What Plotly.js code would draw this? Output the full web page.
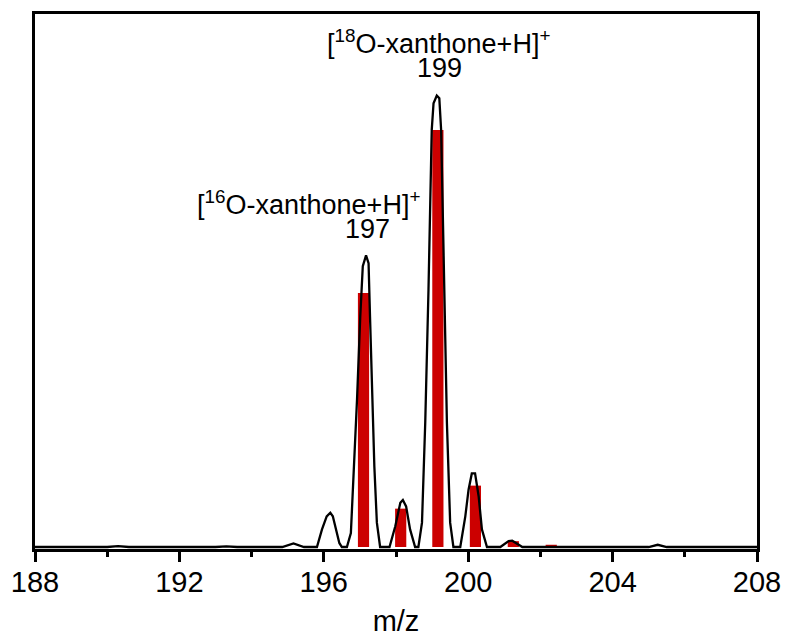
<!DOCTYPE html>
<html>
<head>
<meta charset="utf-8">
<script src="https://cdn.plot.ly/plotly-3.0.1.min.js"></script>
<style>html,body{margin:0;padding:0;background:#fff;}#chart{width:785px;height:637px;}</style>
</head>
<body>
<div id="chart"></div>
<script>
// Calculated isotope pattern (red bars)
const barMz = [197.10, 198.13, 199.16, 200.20, 201.25, 202.30];
const barIntensity = [56.3, 8.5, 92.4, 13.6, 1.3, 0.5];

const profileMz = [
  188.0, 190.0, 190.3, 190.6, 193.0, 193.3, 193.6, 194.85, 195.16, 195.45,
  195.81, 195.95, 196.08, 196.18, 196.25, 196.31, 196.43, 196.50,
  196.64, 196.75, 196.82, 196.92, 197.01, 197.08, 197.17, 197.24, 197.28, 197.33, 197.40, 197.47, 197.56,
  197.82, 197.98, 198.12, 198.19, 198.28, 198.39, 198.53,
  198.62, 198.72, 198.81, 198.90, 198.99, 199.04, 199.13, 199.20, 199.25, 199.32, 199.41, 199.50, 199.59,
  199.78, 199.92, 200.01, 200.10, 200.19, 200.29, 200.38, 200.52,
  200.89, 201.12, 201.22, 201.50,
  205.0, 205.25, 205.5, 208.0
];
const profileIntensity = [
  0, 0, 0.2, 0, 0, 0.15, 0, 0, 0.8, 0,
  0, 3.9, 6.8, 7.6, 6.8, 4.6, 0.9, 0,
  0, 3.1, 14.2, 32.6, 51.1, 62.2, 64.6, 62.9, 51.1, 36.3, 17.9, 5.4, 0,
  0, 4.6, 9.8, 10.4, 9.0, 3.9, 0,
  0, 5.4, 27.6, 57.0, 92.4, 98.3, 100, 99.4, 92.4, 64.4, 27.6, 5.4, 0,
  0, 6.8, 12.7, 16.3, 16.3, 11.2, 3.9, 0,
  0, 1.3, 1.4, 0,
  0, 0.5, 0, 0
];

const xTickVals = [188, 192, 196, 200, 204, 208];
const xTickText = ['188', '192', '196', '200', '204', '208'];

const labels = [
  {text: '[<sup>16</sup>O-xanthone+H]<sup>+</sup>', px: 308, py: 203},
  {text: '197', px: 367, py: 229},
  {text: '[<sup>18</sup>O-xanthone+H]<sup>+</sup>', px: 438, py: 42},
  {text: '199', px: 439, py: 68}
];

const FONT = 'Liberation Sans, Arial, sans-serif';
const L = 35, R = 28, T = 14, B = 88, W = 785, H = 637;
const pw = W - L - R, ph = H - T - B;

const traces = [
  {
    type: 'bar', x: barMz, y: barIntensity, width: 0.31,
    marker: {color: '#cc0000', line: {width: 0}},
    hoverinfo: 'skip'
  },
  {
    type: 'scatter', mode: 'lines', x: profileMz, y: profileIntensity,
    line: {color: '#000000', width: 2.3},
    hoverinfo: 'skip'
  }
];

const layout = {
  width: W, height: H,
  margin: {l: L, r: R, t: T, b: B, pad: 0},
  paper_bgcolor: '#ffffff', plot_bgcolor: '#ffffff',
  showlegend: false,
  barmode: 'overlay',
  font: {family: FONT, size: 27, color: '#000'},
  xaxis: {
    range: [188, 208], autorange: false,
    tickmode: 'array', tickvals: xTickVals, ticktext: xTickText,
    ticks: 'outside', ticklen: 10, tickwidth: 3, tickcolor: '#000',
    minor: {tickmode: 'linear', tick0: 188, dtick: 2, ticks: 'outside', ticklen: 5, tickwidth: 3, tickcolor: '#000', showgrid: false},
    showline: true, linewidth: 3, linecolor: '#000', mirror: true,
    showgrid: false, zeroline: false,
    ticklabelstandoff: -5,
    tickfont: {family: FONT, size: 29, color: '#000'},
    title: {text: 'm/z', font: {family: FONT, size: 29, color: '#000'}, standoff: 20},
    automargin: false
  },
  yaxis: {
    range: [-0.44, 118.08], autorange: false,
    showticklabels: false, ticks: '',
    showline: true, linewidth: 3, linecolor: '#000', mirror: true,
    showgrid: false, zeroline: false, automargin: false
  },
  annotations: labels.map(a => ({
    text: a.text, xref: 'paper', yref: 'paper',
    x: (a.px - L) / pw, y: (H - B - a.py) / ph,
    xanchor: 'center', yanchor: 'middle', showarrow: false,
    font: {family: FONT, size: 27, color: '#000'}
  }))
};

Plotly.newPlot('chart', traces, layout, {displayModeBar: false, staticPlot: true});
</script>
</body>
</html>
